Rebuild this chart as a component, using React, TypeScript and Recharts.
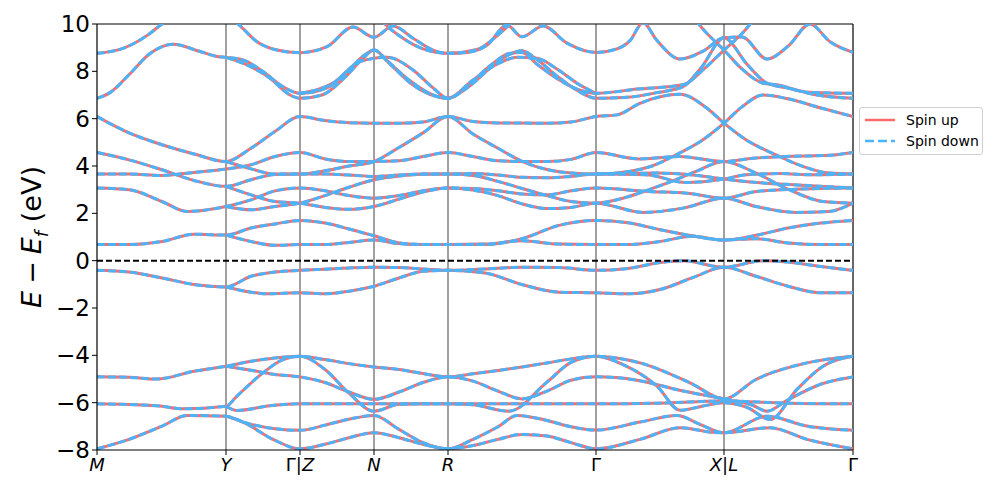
import React from 'react';
import { LineChart, Line, XAxis, YAxis, ReferenceLine } from 'recharts';

type Pt = [number, number];

// k-path: distance along the path for each high-symmetry point
const kTicks = [0, 129, 203, 277, 351, 499, 627, 756];
const kLabels = ['M', 'Y', 'Γ|Z', 'N', 'R', 'Γ', 'X|L', 'Γ'];
const eTicks = [-8, -6, -4, -2, 0, 2, 4, 6, 8, 10];

// bands above ~6.5 eV
const bandA: Pt[] = [[0, 8.76], [26, 8.97], [51, 9.54], [65, 10.0], [103, 10.7], [141, 10.0], [160, 9.25], [180, 8.9], [203, 8.79], [230, 9.04], [256, 9.87], [277, 9.44], [296, 9.92], [316, 9.4], [336, 8.9], [351, 8.76], [370, 8.8], [390, 9.1], [410, 9.95], [425, 9.46], [446, 9.92], [470, 9.19], [499, 8.8], [520, 8.95], [533, 9.3], [546, 10.05], [560, 9.3], [583, 8.52], [606, 8.85], [627, 9.42], [645, 9.45], [670, 8.52], [692, 9.1], [713, 10.0], [733, 9.25], [756, 8.8]];
const bandA2: Pt[] = [[277, 10.6], [287, 10.05], [306, 9.4], [326, 8.95], [351, 8.76], [380, 8.92], [400, 9.5], [415, 10.1], [425, 10.6]];
const bandB: Pt[] = [[0, 6.86], [13, 7.1], [33, 7.9], [53, 8.75], [76, 9.14], [103, 8.84], [120, 8.63], [129, 8.59], [146, 8.48], [166, 7.99], [186, 7.35], [203, 7.07], [230, 7.3], [250, 8.0], [268, 8.7], [277, 8.9], [290, 8.45], [313, 7.6], [336, 7.0], [351, 6.86], [370, 7.3], [395, 8.2], [412, 8.7], [425, 8.87], [440, 8.5], [460, 7.8], [480, 7.2], [499, 6.86], [530, 6.9], [560, 7.1], [586, 7.35], [605, 8.2], [627, 9.42], [650, 8.3], [670, 7.5], [690, 7.3], [720, 7.0], [756, 6.86]];
const bandB2: Pt[] = [[129, 8.59], [150, 8.27], [173, 7.71], [193, 7.0], [203, 6.86], [225, 7.0], [248, 7.75], [265, 8.5], [277, 8.9], [292, 8.35], [315, 7.45], [338, 6.95], [351, 6.86], [372, 7.45], [395, 8.3], [412, 8.75], [425, 8.8], [440, 8.3], [460, 7.7], [480, 7.25], [499, 7.07], [540, 7.25], [586, 7.43], [607, 8.1], [627, 8.9], [645, 9.6], [660, 10.3], [700, 11.0]];
const bandB3: Pt[] = [[203, 7.07], [236, 7.5], [263, 8.41], [290, 8.59], [316, 8.06], [336, 7.3], [351, 6.86], [375, 7.6], [400, 8.3], [420, 8.59], [440, 8.55], [460, 8.1], [480, 7.5], [499, 7.07]];
const bandDtop: Pt[] = [[560, 11.0], [595, 10.3], [610, 9.6], [627, 8.9], [645, 8.1], [666, 7.5], [680, 7.43], [710, 7.12], [756, 7.07]];

// bands between 2 and 6.5 eV
const bandC: Pt[] = [[0, 6.09], [32, 5.4], [65, 4.9], [97, 4.51], [129, 4.19], [154, 4.75], [178, 5.46], [203, 6.09], [228, 5.92], [252, 5.83], [277, 5.81], [302, 5.81], [326, 5.86], [351, 6.09], [376, 5.88], [401, 5.82], [450, 5.81], [474, 5.86], [499, 6.09], [520, 6.16], [543, 6.65], [583, 7.03], [610, 6.44], [627, 5.81], [649, 5.11], [679, 4.47], [706, 3.98], [732, 3.7], [756, 3.66]];
const bandC2: Pt[] = [[129, 4.19], [154, 3.88], [178, 3.66], [203, 3.66], [228, 3.8], [252, 4.0], [277, 4.19], [302, 4.78], [326, 5.4], [351, 6.09], [376, 5.35], [401, 4.75], [425, 4.2], [450, 3.85], [474, 3.7], [499, 3.66], [532, 3.77], [555, 4.0], [579, 4.47], [606, 5.11], [627, 5.81], [645, 6.5], [666, 7.0], [690, 6.85], [724, 6.45], [756, 6.09]];
const bandD: Pt[] = [[0, 4.57], [32, 4.26], [65, 3.84], [97, 3.39], [129, 3.14], [154, 3.42], [178, 3.64], [203, 3.66], [228, 3.66], [252, 3.62], [277, 3.56], [302, 3.62], [326, 3.66], [351, 3.66], [376, 3.68], [401, 3.62], [425, 3.52], [450, 3.5], [474, 3.56], [499, 3.66], [549, 3.63], [589, 3.3], [627, 3.45], [649, 3.63], [682, 3.68], [716, 3.63], [756, 3.66]];
const bandD2: Pt[] = [[129, 3.14], [154, 2.78], [178, 2.5], [203, 2.43], [228, 2.25], [252, 2.17], [277, 2.29], [302, 2.6], [326, 2.9], [351, 3.07], [376, 2.98], [401, 2.75], [425, 2.4], [450, 2.2], [474, 2.25], [499, 2.43], [546, 2.04], [586, 2.22], [627, 2.64], [659, 2.29], [699, 2.04], [732, 2.08], [756, 2.43]];
const bandE: Pt[] = [[0, 3.66], [32, 3.66], [65, 3.6], [97, 3.73], [129, 3.87], [154, 4.05], [178, 4.4], [203, 4.57], [228, 4.3], [252, 4.19], [277, 4.19], [302, 4.22], [326, 4.4], [351, 4.57], [376, 4.4], [401, 4.22], [425, 4.19], [450, 4.19], [474, 4.28], [499, 4.57], [542, 4.3], [582, 4.4], [627, 4.19], [656, 4.33], [686, 4.4], [732, 4.45], [756, 4.57]];
const bandF: Pt[] = [[0, 3.07], [32, 3.0], [65, 2.5], [90, 2.08], [129, 2.29], [154, 2.57], [178, 2.95], [203, 3.07], [228, 2.95], [252, 2.75], [277, 2.64], [302, 2.75], [326, 2.95], [351, 3.07], [376, 3.05], [401, 2.95], [425, 2.82], [450, 2.78], [474, 2.95], [499, 3.07], [552, 2.92], [590, 2.85], [627, 2.64], [659, 2.92], [699, 3.02], [756, 3.07]];
const bandF2: Pt[] = [[129, 2.29], [154, 2.15], [178, 2.29], [203, 2.43], [228, 2.75], [252, 3.1], [277, 3.42], [302, 3.58], [326, 3.65], [351, 3.66], [376, 3.6], [401, 3.35], [425, 3.05], [450, 2.75], [474, 2.5], [499, 2.43], [526, 2.64], [552, 3.0], [579, 3.42], [599, 3.77], [627, 4.19], [659, 3.7], [692, 3.0], [726, 2.5], [756, 2.43]];
const bandX: Pt[] = [[499, 3.66], [560, 3.7], [600, 3.6], [627, 3.45], [660, 3.3], [700, 3.2], [756, 3.07]];

// around the gap
const bandG: Pt[] = [[0, 0.68], [32, 0.68], [65, 0.81], [97, 1.12], [129, 1.08], [154, 1.38], [178, 1.55], [203, 1.7], [228, 1.59], [252, 1.34], [277, 1.05], [302, 0.75], [326, 0.68], [351, 0.68], [388, 0.68], [425, 0.93], [462, 1.49], [499, 1.7], [531, 1.6], [563, 1.31], [595, 1.05], [627, 0.87], [659, 1.07], [691, 1.38], [724, 1.59], [756, 1.7]];
const bandG2: Pt[] = [[129, 1.08], [154, 0.81], [178, 0.65], [203, 0.68], [228, 0.68], [252, 0.77], [277, 0.87], [302, 0.72], [326, 0.68], [351, 0.68], [388, 0.7], [425, 0.84], [462, 0.7], [499, 0.68], [531, 0.68], [563, 0.81], [595, 1.03], [627, 0.87], [659, 0.93], [691, 0.75], [724, 0.68], [756, 0.68]];
const bandV: Pt[] = [[0, -0.41], [32, -0.48], [65, -0.73], [97, -1.01], [129, -1.11], [154, -0.66], [178, -0.48], [203, -0.41], [228, -0.36], [252, -0.31], [277, -0.28], [302, -0.29], [326, -0.35], [351, -0.41], [388, -0.35], [425, -0.28], [462, -0.29], [499, -0.41], [531, -0.33], [563, -0.08], [586, 0.0], [627, -0.28], [666, 0.0], [691, -0.06], [724, -0.25], [756, -0.41]];
const bandV2: Pt[] = [[129, -1.11], [154, -1.33], [170, -1.4], [203, -1.36], [228, -1.4], [252, -1.29], [277, -1.08], [302, -0.73], [326, -0.45], [351, -0.41], [388, -0.52], [425, -1.01], [462, -1.33], [499, -1.36], [531, -1.4], [563, -1.22], [595, -0.73], [627, -0.28], [659, -0.66], [691, -1.08], [724, -1.36], [756, -1.36]];

// deep valence bands
const bandL1: Pt[] = [[0, -4.91], [32, -4.93], [60, -5.0], [97, -4.67], [129, -4.46], [154, -4.25], [178, -4.11], [203, -4.04], [228, -4.18], [252, -4.35], [277, -4.49], [302, -4.6], [326, -4.77], [351, -4.91], [376, -4.78], [401, -4.64], [425, -4.49], [450, -4.32], [474, -4.15], [499, -4.04], [543, -4.32], [593, -5.16], [627, -5.84], [659, -5.02], [710, -4.32], [756, -4.04]];
const bandL1b: Pt[] = [[129, -4.46], [154, -4.63], [178, -4.81], [203, -4.91], [228, -5.15], [252, -5.55], [277, -5.86], [302, -5.55], [326, -5.15], [351, -4.91], [376, -5.09], [401, -5.51], [425, -5.84], [450, -5.51], [474, -5.05], [499, -4.91], [540, -5.05], [585, -5.5], [627, -5.84], [655, -6.1], [670, -6.36], [690, -5.9], [725, -5.2], [756, -4.91]];
const bandL2: Pt[] = [[0, -6.05], [32, -6.08], [65, -6.15], [85, -6.26], [129, -6.15], [140, -5.72], [166, -4.74], [186, -4.18], [203, -4.04], [228, -4.6], [252, -5.6], [277, -6.36], [302, -6.07], [326, -6.05], [351, -6.05], [376, -6.09], [412, -6.36], [450, -5.13], [474, -4.3], [499, -4.04], [526, -4.39], [560, -5.3], [583, -6.32], [605, -6.15], [627, -6.0], [650, -6.2], [673, -6.71], [700, -5.44], [726, -4.46], [756, -4.04]];
const bandL2b: Pt[] = [[129, -6.15], [140, -6.33], [175, -6.12], [203, -6.05], [277, -6.05], [351, -6.05], [425, -6.05], [499, -6.05], [560, -6.02], [627, -5.93], [690, -6.02], [756, -6.05]];
const bandL3: Pt[] = [[0, -7.95], [32, -7.55], [65, -6.99], [90, -6.54], [129, -6.57], [146, -6.82], [178, -7.1], [203, -7.17], [228, -6.95], [252, -6.7], [277, -6.54], [302, -7.13], [326, -7.69], [351, -7.95], [376, -7.55], [401, -7.02], [420, -6.54], [450, -6.75], [474, -7.02], [499, -7.16], [543, -6.82], [580, -6.54], [603, -6.92], [627, -7.27], [670, -6.57], [710, -6.99], [756, -7.17]];
const bandL3b: Pt[] = [[129, -6.57], [146, -6.82], [176, -7.55], [203, -7.95], [228, -7.76], [252, -7.48], [277, -7.27], [302, -7.48], [326, -7.76], [351, -7.95], [376, -7.81], [401, -7.55], [425, -7.34], [450, -7.41], [474, -7.69], [499, -7.95], [543, -7.55], [583, -7.06], [615, -7.25], [627, -7.27], [673, -7.06], [710, -7.55], [756, -7.95]];

const bands: Pt[][] = [
  bandA, bandA2, bandB, bandB2, bandB3, bandDtop,
  bandC, bandC2, bandD, bandD2, bandE, bandF, bandF2, bandX,
  bandG, bandG2, bandV, bandV2,
  bandL1, bandL1b, bandL2, bandL2b, bandL3, bandL3b,
];

const RED = '#ff6b6b';
const BLUE = '#4db3f6';

const rows = bands.map(b => b.map(([k, e]) => ({ k, e })));

const fmtE = (v: number) => (v < 0 ? '\u2212' + Math.abs(v) : String(v));

const XTick = (props: any) => {
  const { x, y, payload } = props;
  const lab = kLabels[kTicks.indexOf(payload.value)] || '';
  return (
    <text x={x} y={y + 14} textAnchor="middle" fontSize={18} fill="#000" fontFamily="DejaVu Sans">
      {lab.split('').map((ch, i) => (
        <tspan key={i} fontStyle={ch === 'Γ' || ch === '|' ? 'normal' : 'italic'}>{ch}</tspan>
      ))}
    </text>
  );
};

export default function App() {
  return (
    <div style={{ position: 'relative', width: 981, height: 482, fontFamily: 'DejaVu Sans, sans-serif' }}>
      <LineChart width={981} height={482} margin={{ top: 16, right: 136, bottom: 10, left: 0 }}>
        <XAxis
          type="number"
          dataKey="k"
          domain={[0, 756]}
          ticks={kTicks}
          interval={0}
          allowDataOverflow
          height={30}
          tickSize={5}
          tick={<XTick />}
          axisLine={{ stroke: '#000', strokeWidth: 1.2 }}
          tickLine={{ stroke: '#000' }}
        />
        <YAxis
          type="number"
          domain={[-8, 10]}
          ticks={eTicks}
          interval={0}
          allowDataOverflow
          width={89}
          tickSize={5}
          tickFormatter={fmtE}
          tick={{ fill: '#000', fontSize: 23, fontFamily: 'DejaVu Sans' }}
          axisLine={{ stroke: '#000', strokeWidth: 1.2 }}
          tickLine={{ stroke: '#000' }}
        />
        {kTicks.slice(1, -1).map(k => (
          <ReferenceLine key={'v' + k} x={k} stroke="#808080" strokeWidth={1.5} />
        ))}
        <ReferenceLine y={10} stroke="#000" strokeWidth={1.2} />
        <ReferenceLine x={756} stroke="#000" strokeWidth={1.2} />
        {rows.map((d, i) => (
          <Line key={'up' + i} data={d} dataKey="e" type="monotone" stroke={RED} strokeWidth={3}
            dot={false} activeDot={false} isAnimationActive={false} />
        ))}
        {rows.map((d, i) => (
          <Line key={'dn' + i} data={d} dataKey="e" type="monotone" stroke={BLUE} strokeWidth={3}
            strokeDasharray="8 3" dot={false} activeDot={false} isAnimationActive={false} />
        ))}
        <ReferenceLine y={0} stroke="#000" strokeWidth={2} strokeDasharray="6 3" />
      </LineChart>

      {/* y label */}
      <div style={{
        position: 'absolute', left: 26, top: 229, transform: 'translate(-50%, -50%) rotate(-90deg)',
        fontSize: 27, whiteSpace: 'nowrap', color: '#000',
      }}>
        <i>E</i><span style={{ margin: '0 7px' }}>−</span><i>E<sub style={{ fontSize: 18 }}>f</sub></i> (eV)
      </div>

      {/* legend */}
      <div style={{
        position: 'absolute', left: 851, top: 99, width: 122, height: 46,
        border: '1px solid #d0d0d0', borderRadius: 3, background: '#fff', color: '#000',
      }}>
        <svg width={122} height={46} style={{ position: 'absolute', left: 0, top: 0 }}>
          <line x1={5} x2={35} y1={12} y2={12} stroke={RED} strokeWidth={2.5} />
          <line x1={5} x2={35} y1={33} y2={33} stroke={BLUE} strokeWidth={2.5} strokeDasharray="9 4" />
          <text x={46} y={17} fontSize={14} fontFamily="DejaVu Sans">Spin up</text>
          <text x={46} y={38} fontSize={14} fontFamily="DejaVu Sans">Spin down</text>
        </svg>
      </div>
    </div>
  );
}
